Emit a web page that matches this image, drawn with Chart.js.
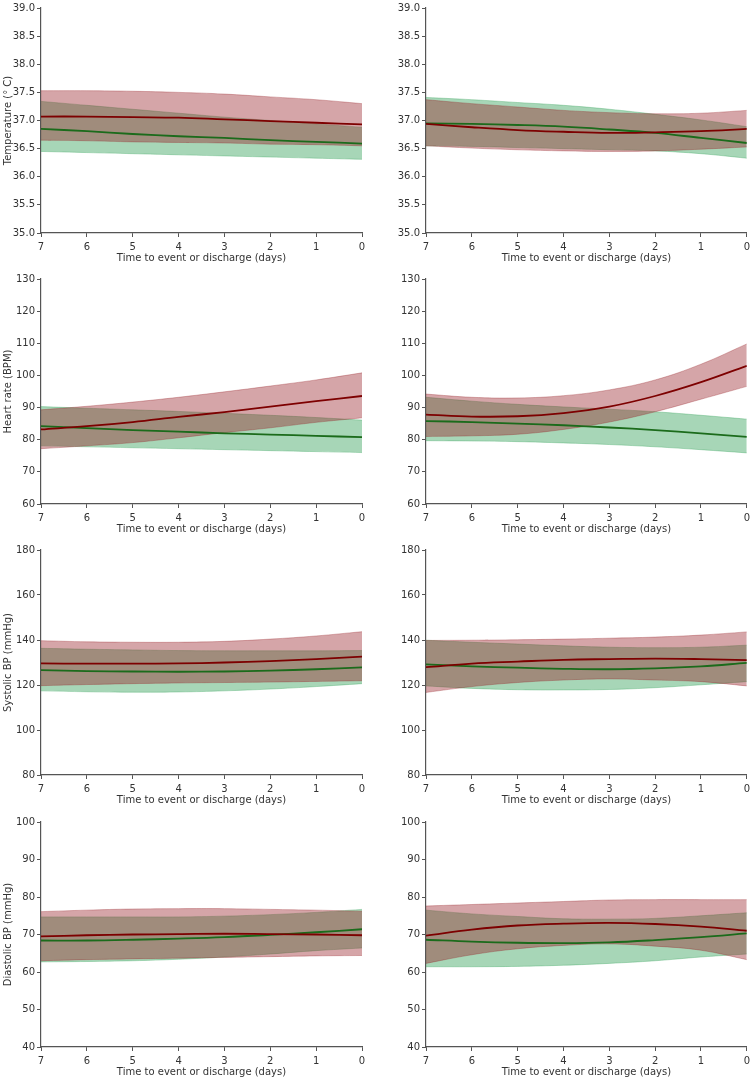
<!DOCTYPE html>
<html>
<head>
<meta charset="utf-8">
<script src="https://cdn.jsdelivr.net/npm/chart.js@4.4.1/dist/chart.umd.min.js"></script>
<style>
  body { margin: 0; background: #fff; overflow: hidden; width: 752px; height: 1078px; position: relative; }
  .panel { position: absolute; }
</style>
</head>
<body>
<script>
// days before event / discharge (x axis runs 7 -> 0)
var days = [7, 6, 5, 4, 3, 2, 1, 0];

// temperature, left
var tempL_red   = [37.07, 37.07, 37.06, 37.05, 37.02, 36.99, 36.96, 36.93];
var tempL_redHi = [37.53, 37.53, 37.52, 37.50, 37.47, 37.42, 37.37, 37.30];
var tempL_redLo = [36.65, 36.64, 36.62, 36.61, 36.60, 36.58, 36.57, 36.55];
var tempL_grn   = [36.85, 36.81, 36.76, 36.72, 36.69, 36.65, 36.62, 36.59];
var tempL_grnHi = [37.34, 37.27, 37.20, 37.13, 37.06, 37.00, 36.94, 36.88];
var tempL_grnLo = [36.45, 36.43, 36.41, 36.39, 36.37, 36.35, 36.33, 36.31];
// temperature, right
var tempR_red   = [36.94, 36.88, 36.83, 36.80, 36.78, 36.79, 36.81, 36.85];
var tempR_redHi = [37.37, 37.30, 37.24, 37.18, 37.14, 37.12, 37.13, 37.18];
var tempR_redLo = [36.55, 36.51, 36.48, 36.46, 36.45, 36.46, 36.49, 36.53];
var tempR_grn   = [36.95, 36.94, 36.92, 36.89, 36.84, 36.78, 36.69, 36.60];
var tempR_grnHi = [37.41, 37.37, 37.32, 37.27, 37.20, 37.11, 37.01, 36.89];
var tempR_grnLo = [36.55, 36.54, 36.52, 36.50, 36.48, 36.46, 36.41, 36.33];

// heart rate, left
var hrL_red   = [83.2, 84.2, 85.5, 87.1, 88.6, 90.3, 92.0, 93.6];
var hrL_redHi = [89.3, 90.4, 91.7, 93.2, 94.9, 96.7, 98.6, 100.8];
var hrL_redLo = [77.2, 78.1, 79.1, 80.6, 82.2, 83.7, 85.4, 86.8];
var hrL_grn   = [84.2, 83.6, 83.0, 82.5, 82.0, 81.6, 81.2, 80.8];
var hrL_grnHi = [90.3, 89.8, 89.3, 88.8, 88.2, 87.6, 86.9, 86.1];
var hrL_grnLo = [78.1, 77.8, 77.5, 77.2, 76.9, 76.6, 76.3, 76.0];
// heart rate, right
var hrR_red   = [87.8, 87.2, 87.3, 88.3, 90.3, 93.6, 97.9, 103.0];
var hrR_redHi = [94.2, 93.2, 93.0, 93.7, 95.5, 98.6, 103.5, 109.8];
var hrR_redLo = [81.0, 81.2, 81.7, 83.2, 85.5, 88.7, 92.6, 96.6];
var hrR_grn   = [85.8, 85.5, 85.0, 84.5, 83.8, 83.0, 82.0, 80.9];
var hrR_grnHi = [93.2, 92.0, 91.0, 90.2, 89.5, 88.7, 87.6, 86.4];
var hrR_grnLo = [79.7, 79.6, 79.4, 79.0, 78.5, 77.8, 76.9, 75.9];

// systolic BP, left
var sbpL_red   = [129.6, 129.5, 129.5, 129.6, 130.0, 130.6, 131.5, 132.6];
var sbpL_redHi = [139.7, 139.2, 139.0, 139.0, 139.4, 140.4, 141.8, 143.7];
var sbpL_redLo = [119.7, 120.2, 120.6, 120.9, 121.1, 121.3, 121.6, 121.9];
var sbpL_grn   = [126.6, 126.2, 126.0, 125.9, 126.0, 126.4, 127.0, 127.8];
var sbpL_grnHi = [136.3, 135.9, 135.6, 135.3, 135.2, 135.2, 135.2, 135.3];
var sbpL_grnLo = [117.4, 117.0, 116.8, 116.9, 117.4, 118.2, 119.3, 120.6];
// systolic BP, right
var sbpR_red   = [127.9, 129.5, 130.4, 131.2, 131.5, 131.7, 131.5, 131.1];
var sbpR_redHi = [139.8, 139.9, 140.1, 140.4, 140.8, 141.3, 142.2, 143.6];
var sbpR_redLo = [116.7, 119.3, 121.1, 122.2, 122.7, 122.2, 121.5, 119.6];
var sbpR_grn   = [129.2, 128.3, 127.7, 127.2, 127.0, 127.4, 128.3, 129.8];
var sbpR_grnHi = [139.9, 139.0, 138.2, 137.4, 136.8, 136.6, 136.8, 137.7];
var sbpR_grnLo = [119.6, 118.5, 117.9, 117.8, 118.0, 118.8, 120.1, 121.5];

// diastolic BP, left
var dbpL_red   = [69.5, 69.8, 70.0, 70.1, 70.2, 70.1, 70.0, 69.8];
var dbpL_redHi = [76.1, 76.5, 76.8, 76.9, 76.9, 76.7, 76.5, 76.2];
var dbpL_redLo = [63.0, 63.3, 63.5, 63.7, 63.9, 64.1, 64.3, 64.4];
var dbpL_grn   = [68.4, 68.4, 68.6, 68.9, 69.3, 69.9, 70.6, 71.4];
var dbpL_grnHi = [74.7, 74.7, 74.7, 74.7, 74.9, 75.3, 75.9, 76.7];
var dbpL_grnLo = [62.7, 62.8, 63.0, 63.4, 64.0, 64.8, 65.7, 66.4];
// diastolic BP, right
var dbpR_red   = [69.7, 71.3, 72.4, 72.9, 73.1, 72.8, 72.1, 71.0];
var dbpR_redHi = [77.6, 78.0, 78.4, 78.8, 79.2, 79.3, 79.3, 79.3];
var dbpR_redLo = [62.3, 64.6, 66.2, 67.1, 67.5, 66.9, 65.8, 63.3];
var dbpR_grn   = [68.6, 68.1, 67.8, 67.7, 67.9, 68.5, 69.3, 70.3];
var dbpR_grnHi = [76.5, 75.5, 74.8, 74.2, 74.1, 74.3, 75.0, 75.8];
var dbpR_grnLo = [61.4, 61.4, 61.5, 61.8, 62.3, 63.0, 64.0, 64.8];

// y axis per row
var rowTitles = ['Temperature (\u00B0 C)', 'Heart rate (BPM)', 'Systolic BP (mmHg)', 'Diastolic BP (mmHg)'];
var rowMin  = [35, 60, 80, 40];
var rowMax  = [39, 130, 180, 100];
var rowStep = [0.5, 10, 20, 10];
var rowDec  = [1, 0, 0, 0];
var xTitle = 'Time to event or discharge (days)';

var panels = [
  [tempL_red, tempL_redHi, tempL_redLo, tempL_grn, tempL_grnHi, tempL_grnLo],
  [tempR_red, tempR_redHi, tempR_redLo, tempR_grn, tempR_grnHi, tempR_grnLo],
  [hrL_red, hrL_redHi, hrL_redLo, hrL_grn, hrL_grnHi, hrL_grnLo],
  [hrR_red, hrR_redHi, hrR_redLo, hrR_grn, hrR_grnHi, hrR_grnLo],
  [sbpL_red, sbpL_redHi, sbpL_redLo, sbpL_grn, sbpL_grnHi, sbpL_grnLo],
  [sbpR_red, sbpR_redHi, sbpR_redLo, sbpR_grn, sbpR_grnHi, sbpR_grnLo],
  [dbpL_red, dbpL_redHi, dbpL_redLo, dbpL_grn, dbpL_grnHi, dbpL_grnLo],
  [dbpR_red, dbpR_redHi, dbpR_redLo, dbpR_grn, dbpR_grnHi, dbpR_grnLo]
];

var RED_LINE = '#7d0000';
var GRN_LINE = '#1b6b1b';
var RED_BAND = 'rgba(150, 30, 38, 0.40)';
var GRN_BAND = 'rgba(60, 165, 95, 0.45)';
var TXT = '#333333';
var AXIS = '#555555';
var font = { family: 'DejaVu Sans', size: 10 };

var rowTop = [0, 271, 542, 814];

function pts(arr) {
  return arr.map(function (v, i) { return { x: days[i], y: v }; });
}

panels.forEach(function (p, k) {
  var row = Math.floor(k / 2), col = k % 2;
  var div = document.createElement('div');
  div.className = 'panel';
  div.style.left = (col ? 376 : 0) + 'px';
  div.style.top = rowTop[row] + 'px';
  var cv = document.createElement('canvas');
  // right column canvas runs 2px past the window edge (clipped) so the plot ends at 747
  cv.width = col ? 378 : 370;
  cv.height = 270;
  div.appendChild(cv);
  document.body.appendChild(div);

  new Chart(cv, {
    type: 'line',
    data: {
      datasets: [
        { data: pts(p[0]), borderColor: RED_LINE, borderWidth: 1.8, fill: false },
        { data: pts(p[3]), borderColor: GRN_LINE, borderWidth: 1.8, fill: false },
        { data: pts(p[1]), borderColor: RED_BAND, borderWidth: 0.8, backgroundColor: RED_BAND, fill: 3 },
        { data: pts(p[2]), borderColor: RED_BAND, borderWidth: 0.8, fill: false },
        { data: pts(p[4]), borderColor: GRN_BAND, borderWidth: 0.8, backgroundColor: GRN_BAND, fill: 5 },
        { data: pts(p[5]), borderColor: GRN_BAND, borderWidth: 0.8, fill: false }
      ]
    },
    options: {
      responsive: false,
      animation: false,
      devicePixelRatio: 1,
      layout: { padding: { top: 5, right: col ? 7 : 8, bottom: 2, left: 0 } },
      plugins: { legend: { display: false }, tooltip: { enabled: false } },
      elements: { point: { radius: 0 }, line: { tension: 0.4 } },
      scales: {
        x: {
          type: 'linear', reverse: true, min: 0, max: 7,
          ticks: { stepSize: 1, color: TXT, font: font, padding: 4, maxRotation: 0 },
          grid: { drawOnChartArea: false, drawTicks: true, tickLength: 4, color: AXIS },
          border: { color: AXIS, width: 1.2 },
          title: { display: true, text: xTitle, color: TXT, font: font, padding: { top: 2, bottom: 4 } },
          afterFit: function (s) { s.height = 35; }
        },
        y: {
          min: rowMin[row], max: rowMax[row],
          ticks: {
            stepSize: rowStep[row], color: TXT, font: font, padding: 2,
            callback: function (v) { return Number(v).toFixed(rowDec[row]); }
          },
          grid: { drawOnChartArea: false, drawTicks: true, tickLength: 4, color: AXIS },
          border: { color: AXIS, width: 1.2 },
          title: { display: col === 0, text: rowTitles[row], color: TXT, font: font, padding: { top: 2, bottom: 0 } },
          afterFit: function (s) { s.width = col ? 50 : 41; }
        }
      }
    }
  });
});
</script>
</body>
</html>
